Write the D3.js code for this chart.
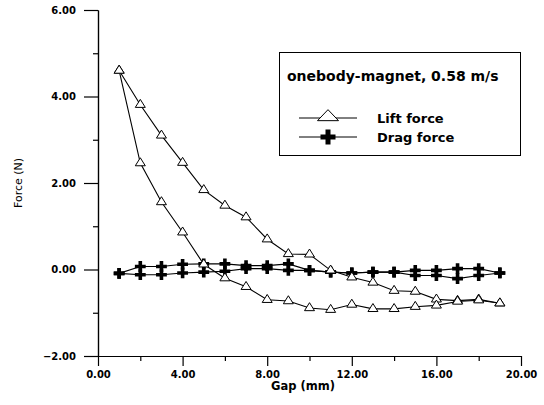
<!DOCTYPE html>
<html>
<head>
<meta charset="utf-8">
<script src="https://cdn.jsdelivr.net/npm/d3@7"></script>
<style>
	html, body { margin: 0; padding: 0; background: #fff; }
	svg { display: block; }
	text { font-family: "DejaVu Sans", sans-serif; fill: #000; }
</style>
</head>
<body>
<div id="chart"></div>
<script>
'use strict';

	// values
	var arrayGap = [1, 2, 3, 4, 5, 6, 7, 8, 9, 10, 11, 12, 13, 14, 15, 16, 17, 18, 19];

	// lift force, two branches of the loop
	var arrayLiftUpper = [4.60, 3.81, 3.10, 2.47, 1.84, 1.48, 1.21, 0.70, 0.36, 0.35, -0.02, -0.18, -0.30, -0.49, -0.51, -0.69, -0.72, -0.69, -0.78];
	var arrayLiftLower = [4.60, 2.46, 1.56, 0.86, 0.12, -0.20, -0.40, -0.70, -0.73, -0.89, -0.93, -0.81, -0.91, -0.91, -0.86, -0.83, -0.74, -0.71, -0.78];

	// drag force, two branches
	var arrayDragUpper = [-0.09, 0.07, 0.07, 0.12, 0.13, 0.13, 0.09, 0.09, 0.13, -0.02, -0.06, -0.08, -0.06, -0.06, -0.02, -0.02, 0.02, 0.02, -0.08];
	var arrayDragLower = [-0.09, -0.12, -0.12, -0.08, -0.06, -0.04, 0.02, 0.02, -0.02, -0.02, -0.06, -0.08, -0.06, -0.06, -0.14, -0.14, -0.21, -0.14, -0.08];

	var arrayXTicks = [0, 4, 8, 12, 16, 20];
	var arrayXMinorTicks = [2, 6, 10, 14, 18];
	var arrayYTicks = [-2, 0, 2, 4, 6];
	var arrayYMinorTicks = [-1, 1, 3, 5];

	var strLegendTitle = 'onebody-magnet, 0.58 m/s';
	var arrayLegendNames = ['Lift force', 'Drag force'];
	var strXLabel = 'Gap (mm)';
	var strYLabel = 'Force (N)';

	var nWidth = 544;
	var nHeight = 405;

	var svg = d3.select('#chart').append('svg')
		.attr('width', nWidth)
		.attr('height', nHeight);

	var x = d3.scaleLinear().domain([0, 20]).range([98, 521]);
	var y = d3.scaleLinear().domain([-2, 6]).range([356, 10]);

	var fmt = d3.format('.2f');

	// flattened open triangle, like the scanned markers
	function PathTriangle(fWidth, fHeight)
	{
		return 'M0,' + (-fHeight * 2 / 3)
			+ 'L' + (fWidth / 2) + ',' + (fHeight / 3)
			+ 'L' + (-fWidth / 2) + ',' + (fHeight / 3) + 'Z';
	}

	var strCross = d3.symbol().type(d3.symbolCross).size(65)();
	var strCrossBig = d3.symbol().type(d3.symbolCross).size(125)();

	// axes
	svg.append('g')
		.attr('transform', 'translate(' + x(0) + ',0)')
		.call(d3.axisLeft(y).tickValues(arrayYTicks).tickFormat(fmt).tickSize(14).tickSizeOuter(0).tickPadding(8));
	svg.append('g')
		.attr('transform', 'translate(' + x(0) + ',0)')
		.call(d3.axisLeft(y).tickValues(arrayYMinorTicks).tickFormat('').tickSize(5).tickSizeOuter(0));

	svg.append('g')
		.attr('transform', 'translate(0,' + y(-2) + ')')
		.call(d3.axisBottom(x).tickValues(arrayXTicks).tickFormat(fmt).tickSize(10).tickSizeOuter(0).tickPadding(5));
	svg.append('g')
		.attr('transform', 'translate(0,' + y(-2) + ')')
		.call(d3.axisBottom(x).tickValues(arrayXMinorTicks).tickFormat('').tickSize(5).tickSizeOuter(0));

	svg.selectAll('.domain, .tick line').attr('stroke', '#000').attr('stroke-width', 1.2);
	svg.selectAll('.tick text')
		.style('font-family', '"DejaVu Sans", sans-serif')
		.style('font-size', '10px')
		.style('font-weight', 'bold')
		.attr('fill', '#000');

	svg.append('text')
		.attr('x', 303)
		.attr('y', 390)
		.attr('text-anchor', 'middle')
		.style('font-size', '11.5px')
		.style('font-weight', 'bold')
		.text(strXLabel);

	svg.append('text')
		.attr('transform', 'translate(22,183) rotate(-90)')
		.attr('text-anchor', 'middle')
		.attr('fill', '#000')
		.style('font-size', '11px')
		.text(strYLabel);

	// series
	var line = d3.line()
		.x(function(d) { return x(d[0]); })
		.y(function(d) { return y(d[1]); });

	var arraySeries = [
		{ type: 'lift', values: arrayLiftUpper },
		{ type: 'lift', values: arrayLiftLower },
		{ type: 'drag', values: arrayDragUpper },
		{ type: 'drag', values: arrayDragLower }
	];

	arraySeries.forEach(function(series)
	{
		series.points = arrayGap.map(function(nGap, i) { return [nGap, series.values[i]]; });

		svg.append('path')
			.datum(series.points)
			.attr('d', line)
			.attr('fill', 'none')
			.attr('stroke', '#000')
			.attr('stroke-width', 1.1);
	});

	// drag markers first, lift triangles drawn on top
	arraySeries.filter(function(s) { return s.type == 'drag'; }).forEach(function(series)
	{
		svg.append('g').selectAll('path')
			.data(series.points)
			.enter().append('path')
				.attr('transform', function(d) { return 'translate(' + x(d[0]) + ',' + y(d[1]) + ')'; })
				.attr('d', strCross)
				.attr('fill', '#000');
	});

	arraySeries.filter(function(s) { return s.type == 'lift'; }).forEach(function(series)
	{
		svg.append('g').selectAll('path')
			.data(series.points)
			.enter().append('path')
				.attr('transform', function(d) { return 'translate(' + x(d[0]) + ',' + y(d[1]) + ')'; })
				.attr('d', PathTriangle(10, 8))
				.attr('fill', '#fff')
				.attr('stroke', '#000')
				.attr('stroke-width', 1);
	});

	// legend
	var gLegend = svg.append('g');
	gLegend.append('rect')
		.attr('x', 279.5)
		.attr('y', 52.5)
		.attr('width', 241)
		.attr('height', 103)
		.attr('fill', '#fff')
		.attr('stroke', '#000')
		.attr('stroke-width', 1);

	gLegend.append('text')
		.attr('x', 287)
		.attr('y', 81)
		.style('font-size', '14px')
		.style('font-weight', 'bold')
		.text(strLegendTitle);

	arrayLegendNames.forEach(function(strName, i)
	{
		var fY = 118 + i * 19;
		gLegend.append('line')
			.attr('x1', 299).attr('x2', 357)
			.attr('y1', fY).attr('y2', fY)
			.attr('stroke', '#000')
			.attr('stroke-width', 1);

		var marker = gLegend.append('path')
			.attr('transform', 'translate(328,' + (i == 0 ? fY - 1 : fY) + ')');
		if (i == 0)
		{
			marker.attr('d', PathTriangle(21, 11))
				.attr('fill', '#fff')
				.attr('stroke', '#000')
				.attr('stroke-width', 1);
		}
		else
		{
			marker.attr('d', strCrossBig).attr('fill', '#000');
		}

		gLegend.append('text')
			.attr('x', 377)
			.attr('y', fY + 5)
			.style('font-size', '13px')
			.style('font-weight', 'bold')
			.text(strName);
	});
</script>
</body>
</html>
